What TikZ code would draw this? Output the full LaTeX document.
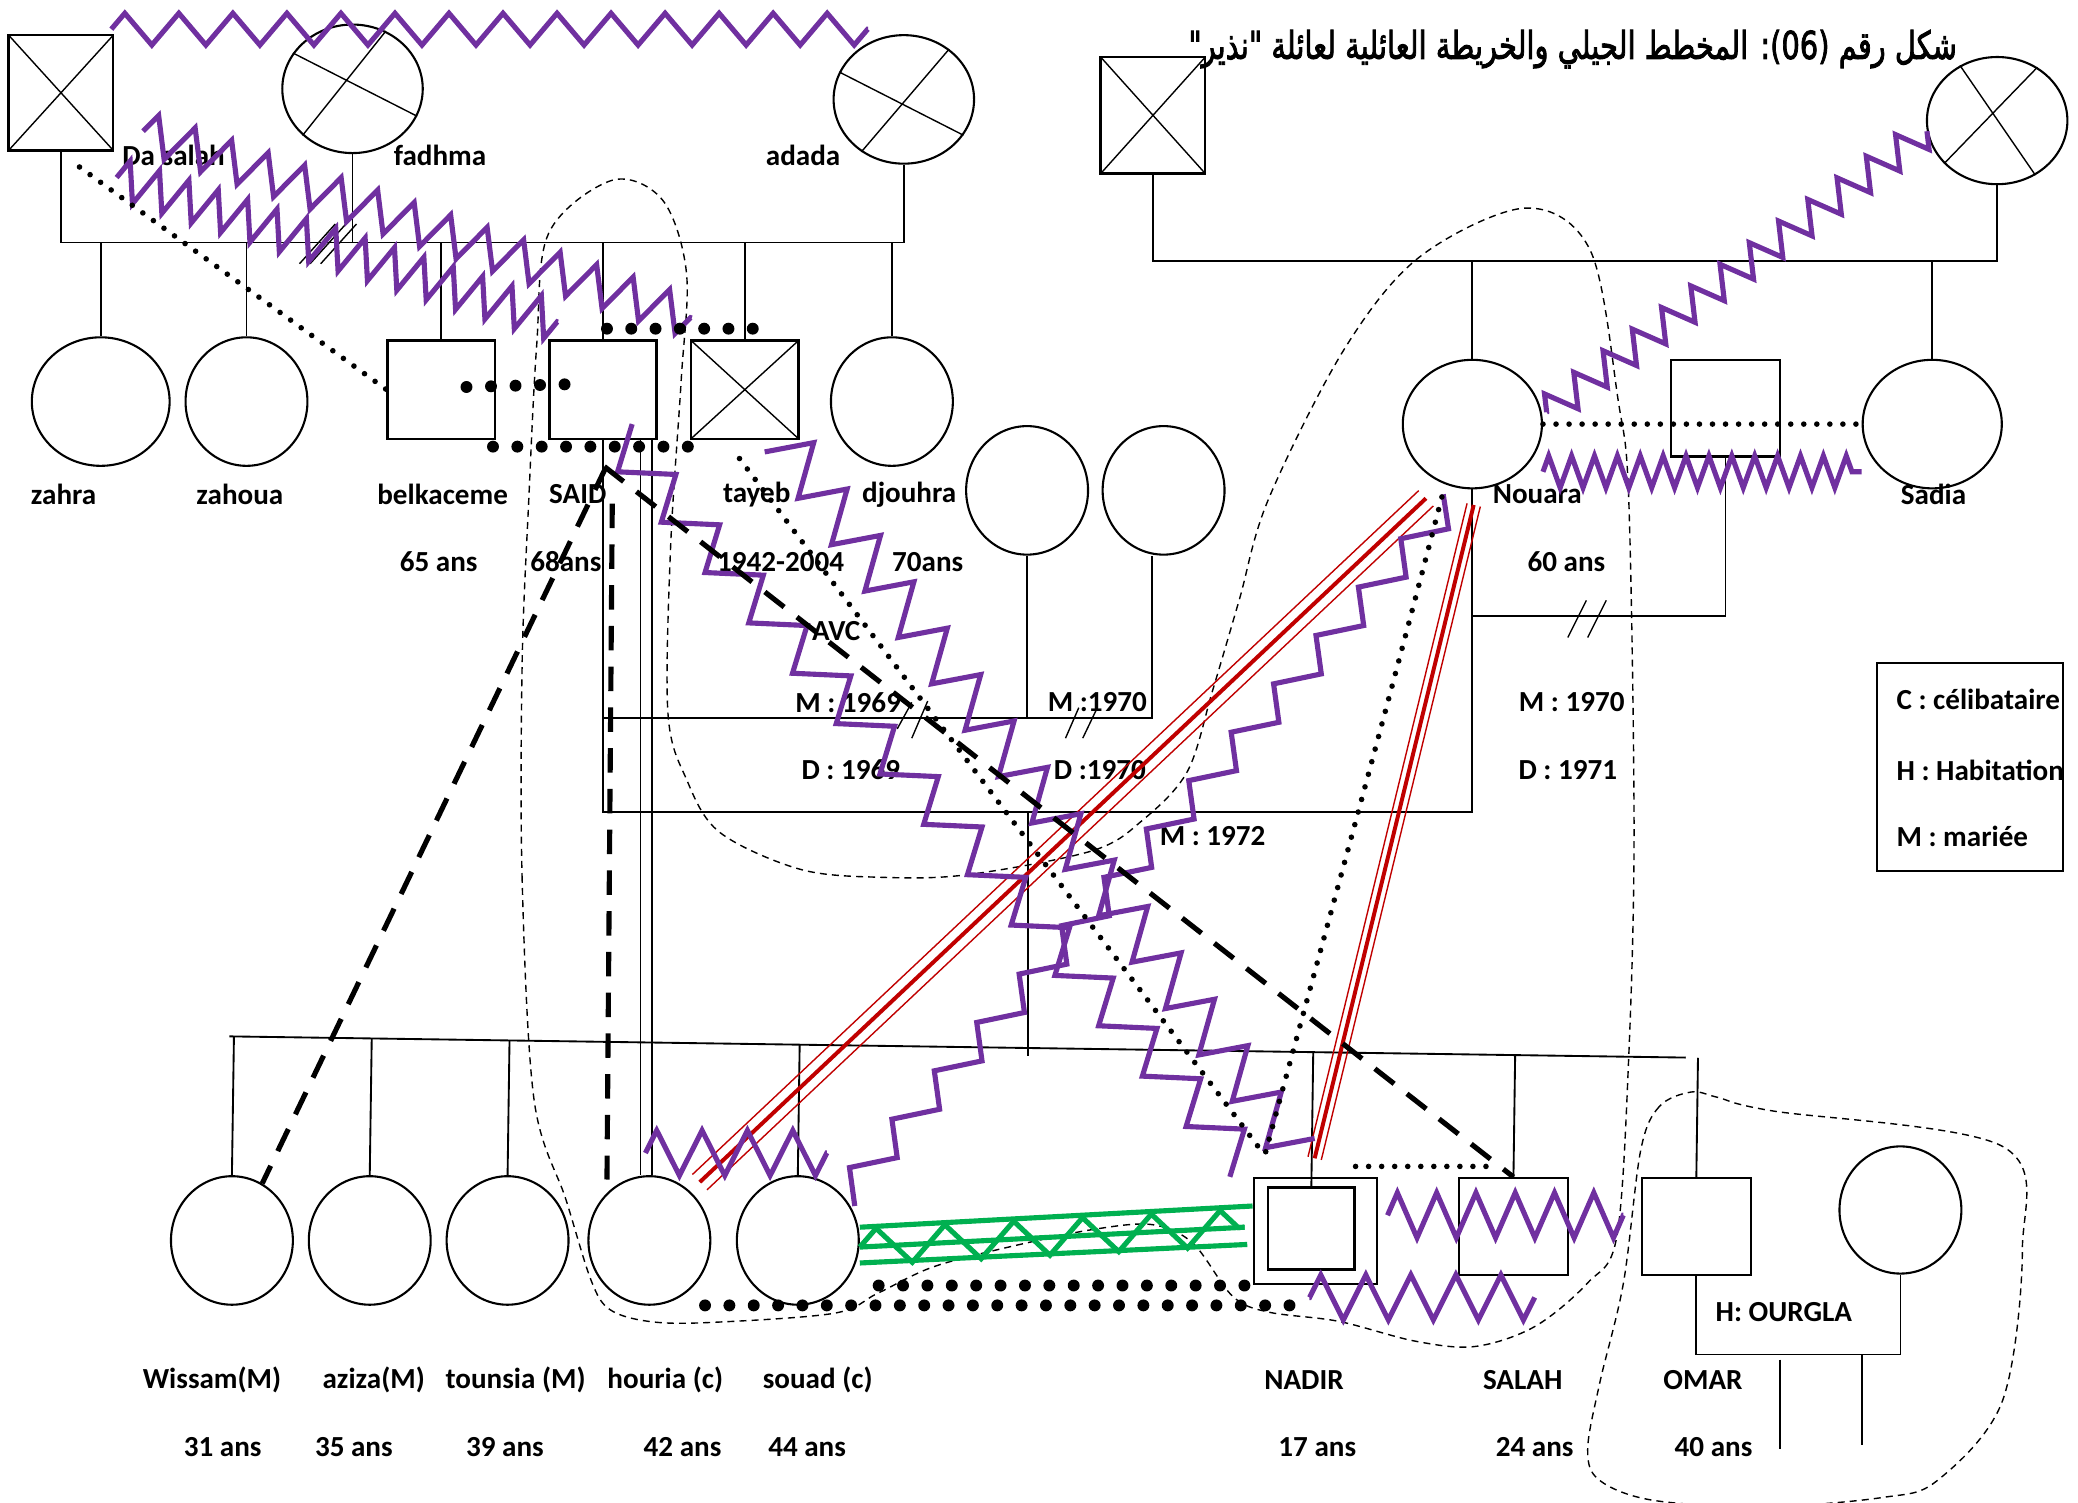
\documentclass[tikz,border=0pt]{standalone}
\usepackage{fontspec}
\setmainfont{Carlito}
\newfontfamily\arabicfont[Script=Arabic, FakeBold=2.5]{DejaVu Sans}
\TeXXeTstate=1
\usepackage{graphicx}
\usepackage{tikz}
\usetikzlibrary{shapes.geometric, positioning, calc, decorations.pathmorphing}

\definecolor{zigpurple}{HTML}{7030A0}
\definecolor{conflred}{HTML}{C00000}
\definecolor{bondgreen}{HTML}{00B050}

% stair shaped link: start, repeats, first step, second step, tail
\newcommand{\stairpath}[5]{\draw[stair] #1 \foreach \k in {1,...,#2}{ -- ++#3 -- ++#4 } #5;}
% row of big dots: from, to, number of gaps
\newcommand{\dotrow}[3]{\foreach \i in {0,...,#3}{\fill ($#1!\i/#3!#2$) circle[radius=0.09cm];}}

\begin{document}
\begin{tikzpicture}[x=0.02cm, y=-0.02cm,
    node distance=1.02cm,
    every node/.style={font=\fontsize{12.5}{15}\selectfont\bfseries, inner sep=1pt},
    male/.style={rectangle, draw, line width=1pt, minimum width=1.62cm, minimum height=1.48cm},
    female/.style={ellipse, draw, line width=0.9pt, minimum width=1.84cm, minimum height=1.94cm},
    wide/.style={minimum width=2.12cm},
    dead/.style={path picture={\draw[line width=0.6pt] (path picture bounding box.north west) -- (path picture bounding box.south east) (path picture bounding box.north east) -- (path picture bounding box.south west);}},
    rel/.style={line width=0.8pt},
    slash/.style={line width=0.6pt},
    zig/.style 2 args={draw=zigpurple, line width=2.2pt, decorate, decoration={zigzag, segment length=#1, amplitude=#2}},
    stair/.style={draw=zigpurple, line width=2.2pt},
    conflict/.style={draw=conflred, line width=1.7pt},
    conflictedge/.style={draw=conflred, line width=0.6pt},
    bond/.style={draw=bondgreen, line width=2.2pt},
    dotline/.style={line width=2.4pt, dash pattern=on 0pt off 5.6pt, line cap=round},
    cutoff/.style={line width=2.2pt, dash pattern=on 10.5pt off 7pt},
    home/.style={line width=0.6pt, dash pattern=on 3pt off 2.2pt}
  ]
  \useasboundingbox (0,0) rectangle (1568,1134);

  % Title
  \node[anchor=east, inner sep=0pt] (title) at (1477,37) {\resizebox{11.6cm}{0.44cm}{\mdseries\arabicfont\beginR شكل رقم \beginL(06)\endL: المخطط الجيلي والخريطة العائلية لعائلة "نذير"\endR}};

  % Households
  \draw[home] plot[smooth cycle, tension=0.55] coordinates {(403,830) (394,664) (394,500) (399,377) (405,260) (414,176) (462,136) (500,151) (518,206) (514,287) (506,413) (504,538) (518,588) (543,628) (604,656) (666,662) (730,660) (824,642) (862,619) (896,582) (915,521) (935,453) (957,377) (1014,264) (1071,194) (1151,157) (1200,189) (1221,302) (1229,377) (1233,626) (1229,797) (1220,933) (1198,968) (1158,1001) (1113,1016) (1068,1012) (1010,997) (957,990) (930,978) (900,938) (869,924) (823,928) (761,941) (704,956) (662,976) (629,991) (533,998) (489,997) (460,988) (446,966) (427,905)};
  \draw[home] plot[smooth cycle, tension=0.55] coordinates {(1276,824) (1252,835) (1238,868) (1225,968) (1207,1044) (1198,1094) (1207,1117) (1247,1132) (1330,1137) (1420,1130) (1462,1117) (1511,1057) (1526,943) (1511,865) (1336,838) (1296,828)};

  % Grandparents
  \node[male, dead, minimum width=1.58cm, minimum height=1.74cm] (dasalah) at (46,70) {};
  \node[female, wide] (fadhma) at (266,67) {};
  \node[female, wide] (adada) at (682,75) {};
  \draw[slash] (fadhma.149) -- (fadhma.-23) (fadhma.60) -- (fadhma.223);
  \draw[slash] (adada.157) -- (adada.-31) (adada.48) -- (adada.231);
  \node[male, dead, minimum width=1.58cm, minimum height=1.76cm] (nfather) at (870,87) {};
  \node[female, wide, minimum height=1.92cm] (nmother) at (1507,91) {};
  \draw[slash] (nmother.124) -- (nmother.-55) (nmother.53) -- (nmother.219);

  % Parents generation
  \node[female, minimum width=2.08cm] (zahra) at (76,303) {};
  \node[female] (zahoua) at (186,303) {};
  \node[male] (belkaceme) at (333,294) {};
  \node[male] (said) at (455,294) {};
  \node[male, dead] (tayeb) at (562,294) {};
  \node[female] (djouhra) at (673,303) {};
  \node[female] (exone) at (775,370) {};
  \node[female] (extwo) at (878,370) {};
  \node[female, minimum width=2.1cm] (nouara) at (1111,320) {};
  \node[male, minimum width=1.64cm, minimum height=1.46cm] (nhusb) at (1302,308) {};
  \node[female, minimum width=2.1cm] (sadia) at (1458,320) {};

  % Children
  \foreach \n/\x in {wissam/175, aziza/279, tounsia/383, houria/490, souad/602}
    \node[female] (\n) at (\x,936) {};
  \node[rectangle, draw, line width=1pt, minimum width=1.86cm, minimum height=1.6cm] (nadir) at (992.5,929) {};
  \node[rectangle, draw, line width=1pt, minimum width=1.3cm, minimum height=1.24cm] (nadirin) at (989.5,927) {};
  \node[male, minimum width=1.64cm, minimum height=1.46cm] (salah) at (1142,925.5) {};
  \node[male, minimum width=1.64cm, minimum height=1.46cm] (omar) at (1280,925.5) {};
  \node[female, minimum height=1.92cm] (omarw) at (1434,913) {};

  % Labels
  \node (dasalahlbl) at (131,117) {Da salah};
  \node (fadhmalbl) at (332,117) {fadhma};
  \node (adadalbl) at (606,117) {adada};
  \node (zahralbl) at (48,373) {zahra};
  \node (zahoualbl) at (181,373) {zahoua};
  \node (belkacemelbl) at (334,373) {belkaceme};
  \node (belkacemeage) [below of=belkacemelbl, xshift=-0.06cm] {65 ans};
  \node (saidlbl) at (436,373) {SAID};
  \node (saidage) [below of=saidlbl, xshift=-0.18cm] {68ans};
  \node (tayeblbl) at (571,373) {tayeb};
  \node (tayebage) [below of=tayeblbl, xshift=0.36cm] {1942-2004};
  \node (djouhralbl) at (686,373) {djouhra};
  \node (djouhraage) [below of=djouhralbl, xshift=0.28cm] {70ans};
  \node (nouaralbl) at (1160,373) {Nouara};
  \node (nouaraage) [below of=nouaralbl, xshift=0.44cm] {60 ans};
  \node (sadialbl) at (1459,373) {Sadia};
  \node (avc) at (631,476) {AVC};
  \node (mone) at (640,530) {M : 1969};
  \node (done) [below of=mone, xshift=0.04cm] {D : 1969};
  \node (mtwo) at (828,530) {M :1970};
  \node (dtwo) [below of=mtwo, xshift=0.04cm] {D :1970};
  \node (mthree) at (1186,530) {M : 1970};
  \node (dthree) [below of=mthree, xshift=-0.06cm] {D : 1971};
  \node (mfour) at (915,631) {M : 1972};
  \node (wissamlbl) at (160,1041) {Wissam(M)};
  \node (wissamage) [below of=wissamlbl, xshift=0.16cm] {31 ans};
  \node (azizalbl) at (282,1041) {aziza(M)};
  \node (azizaage) [below of=azizalbl, xshift=-0.3cm] {35 ans};
  \node (tounsialbl) at (389,1041) {tounsia (M)};
  \node (tounsiaage) [below of=tounsialbl, xshift=-0.16cm] {39 ans};
  \node (hourialbl) at (502,1041) {houria (c)};
  \node (houriaage) [below of=hourialbl, xshift=0.26cm] {42 ans};
  \node (souadlbl) at (617,1041) {souad (c)};
  \node (souadage) [below of=souadlbl, xshift=-0.16cm] {44 ans};
  \node (nadirlbl) at (984,1041) {NADIR};
  \node (nadirage) [below of=nadirlbl, xshift=0.2cm] {17 ans};
  \node (salahlbl) at (1149,1041) {SALAH};
  \node (salahage) [below of=salahlbl, xshift=0.18cm] {24 ans};
  \node (omarlbl) at (1285,1041) {OMAR};
  \node (omarage) [below of=omarlbl, xshift=0.16cm] {40 ans};
  \node (habit) at (1346,990) {H: OURGLA};

  % Legend
  \node[draw, line width=0.9pt, minimum width=2.82cm, minimum height=3.14cm] (legend) at (1486.5,578.5) {};
  \node[anchor=west] (legc) at (1429,528) {C : célibataire};
  \node[anchor=west] (legh) at (1429,581) {H : Habitation};
  \node[anchor=west] (legm) at (1429,631) {M : mariée};

  % Family lines
  \coordinate (sibA) at (0,183);
  \coordinate (sibN) at (0,197);
  \coordinate (marA) at (0,542);
  \coordinate (marB) at (0,613);
  \coordinate (marC) at (0,465);
  \coordinate (hab) at (0,1022);
  \coordinate (sibL) at (173,782);
  \coordinate (sibR) at (1272,798);
  \draw[rel] (dasalah.south) -- (dasalah.south |- sibA) -- (adada.south |- sibA) -- (adada.south);
  \draw[rel] (fadhma.south) -- (fadhma.south |- sibA);
  \foreach \c in {zahra, zahoua, belkaceme, said, tayeb, djouhra}
    \draw[rel] (\c.north) -- (\c.north |- sibA);
  \foreach \sx in {226,234,242}
    \draw[slash] (\sx,199) -- ++(27,-30);
  \draw[rel] (nfather.south) -- (nfather.south |- sibN) -- (nmother.south |- sibN) -- (nmother.south);
  \foreach \c in {nouara, sadia}
    \draw[rel] (\c.north) -- (\c.north |- sibN);
  \draw[rel] (said.south) -- (said.south |- marB) -- (nouara.south |- marB) -- (nouara.south);
  \draw[rel] (said.south |- marA) -- ([xshift=-0.18cm]extwo.south |- marA) -- ([xshift=-0.18cm]extwo.south);
  \draw[rel] (exone.south) -- (exone.south |- marA);
  \draw[slash] (677,550) -- (688,530) (688,557) -- (700,529);
  \draw[slash] (804,557) -- (814,534) (817,557) -- (828,534);
  \draw[rel] (nouara.south |- marC) -- (nhusb.south |- marC) -- (nhusb.south);
  \draw[slash] (1183,481) -- (1197,453) (1198,481) -- (1212,453);
  \draw[rel] (sibL) -- (sibR);
  \draw[rel] ([xshift=0.02cm]exone.south |- marB) -- ++(0,184);
  \foreach \c in {wissam, aziza, tounsia, souad, nadirin, salah, omar}
    \draw[rel] (\c.north) -- ($(sibL)!(\c.north)!(sibR)$);
  \draw[line width=0.5pt] ([xshift=0.56cm]said.south) -- ([xshift=0.56cm]said.south |- houria.north);
  \draw[line width=0.5pt] ([xshift=0.74cm]said.south) -- ([xshift=0.74cm]said.south |- houria.north);
  \draw[rel] (omar.south) -- (omar.south |- hab) -- (omarw.south |- hab) -- (omarw.south);
  \coordinate (okidA) at (1343,1093);
  \coordinate (okidB) at (1405,1090);
  \draw[rel] ([yshift=-0.08cm]okidA |- hab) -- (okidA);
  \draw[rel] (okidB |- hab) -- (okidB);

  % Relation ends
  \coordinate (zgA) at (84,22);      \coordinate (zgB) at (655,22);
  \coordinate (zgC) at (108,99);     \coordinate (zgD) at (522,240);
  \coordinate (zgE) at (88,134);     \coordinate (zgF) at (421,243);
  \coordinate (zgG) at (1454,99);    \coordinate (zgH) at (1167,311);
  \coordinate (zgI) at (487,870);    \coordinate (zgJ) at (624,870);
  \coordinate (zgK) at (1047,917);   \coordinate (zgL) at (1225,917);
  \coordinate (zgM) at (1158,979);   \coordinate (zgN) at (988,979);
  \coordinate (stA) at (477,320);
  \coordinate (stB) at (577,341);
  \coordinate (stC) at (645,910);
  \coordinate (ctA) at (456,352);
  \coordinate (ctB) at (457,353);
  \coordinate (ctC) at (462,380);    \coordinate (ctD) at (458,890);
  \coordinate (dtA) at (60,126);
  \coordinate (dtB) at (558,346);    \coordinate (dtC) at (950,866);
  \coordinate (dtD) at (1088,375);   \coordinate (dtE) at (954,873);
  \coordinate (rdA) at (1076,376);   \coordinate (rdB) at (528,892);
  \coordinate (rdC) at (1112,381);   \coordinate (rdD) at (992,874);

  % Conflict (red)
  \draw[conflict] (rdA) -- (rdB);
  \draw[conflictedge] ([shift={(5.5,5.8)}]rdA) -- ([shift={(5.5,5.8)}]rdB);
  \draw[conflictedge] ([shift={(-5.5,-5.8)}]rdA) -- ([shift={(-5.5,-5.8)}]rdB);
  \draw[conflict] (rdC) -- (rdD);
  \draw[conflictedge] ([shift={(5,1.2)}]rdC) -- ([shift={(5,1.2)}]rdD);
  \draw[conflictedge] ([shift={(-5,-1.2)}]rdC) -- ([shift={(-5,-1.2)}]rdD);

  % Hostile links (purple)
  \draw[zig={0.8155cm}{0.24cm}] (zgA) -- (zgB);
  \draw[zig={0.582cm}{0.3cm}] (zgC) -- (zgD);
  \draw[zig={0.4665cm}{0.3cm}] (zgE) -- (zgF);
  \draw[zig={0.549cm}{0.24cm}] (zgG) -- (zgH);
  \draw[zig={0.3455cm}{0.24cm}] ([yshift=-0.72cm]nouara.east) -- ([yshift=-0.72cm]sadia.west);
  \draw[zig={0.6845cm}{0.34cm}] (zgI) -- (zgJ);
  \draw[zig={0.593cm}{0.34cm}] (zgK) -- (zgL);
  \draw[zig={0.6795cm}{0.34cm}] (zgM) -- (zgN);
  \stairpath{(stA)}{14}{(-11,36)}{(44,2)}{-- ++(-11,36)}
  \stairpath{(stB)}{15}{(37,-7)}{(-11.8,42)}{-- ++(37,-7)}
  \stairpath{(stC)}{14}{(-4,-29)}{(36,-7.5)}{-- ++(-4,-26)}

  % Close bond (green)
  \draw[bond] ([yshift=0.2cm]souad.east) -- ([yshift=0.38cm]nadir.west);
  \draw[bond] ([yshift=-0.1cm]souad.east) -- ([xshift=-0.12cm, yshift=0.06cm]nadir.west);
  \draw[bond] ([yshift=-0.34cm]souad.east) -- ([xshift=-0.08cm, yshift=-0.2cm]nadir.west);
  \draw[bond, decorate, decoration={zigzag, segment length=1.04cm, amplitude=0.27cm}] ([yshift=-0.1cm]souad.east) -- ([xshift=-0.12cm, yshift=0.06cm]nadir.west);

  % Cut off (thick dashes)
  \draw[cutoff] (ctA) -- (salah.north);
  \draw[cutoff] (ctB) -- (wissam.62);
  \draw[cutoff] (ctC) -- (ctD);

  % Distant (dots)
  \draw[dotline] (dtA) -- (belkaceme.west);
  \draw[dotline] (dtB) -- (dtC);
  \draw[dotline] (dtD) .. controls (1040,560) and (990,740) .. (dtE);
  \draw[dotline] (nouara.east) -- (sadia.west);
  \draw[dotline] ([xshift=-0.34cm, yshift=0.16cm]nadir.north east) -- ([xshift=0.5cm, yshift=0.16cm]salah.north west);
  \dotrow{(352,292)}{(426,290)}{4}
  \dotrow{(458,248)}{(568,248)}{6}
  \dotrow{(372,337)}{(519,337)}{8}
  \dotrow{(663,970)}{(939,970)}{15}
  \dotrow{(532,985)}{(973,985)}{24}
\end{tikzpicture}
\end{document}
